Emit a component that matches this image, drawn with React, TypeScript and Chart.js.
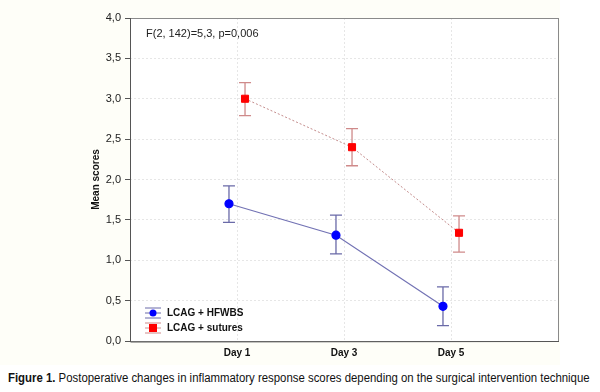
import React, { useEffect, useLayoutEffect, useRef } from "react";
import { Chart, registerables } from "chart.js";
Chart.register(...registerables);

const categories = ["Day 1", "Day 3", "Day 5"];
const hfwbsMean = [1.70, 1.31, 0.43];
const hfwbsLow = [1.47, 1.08, 0.19];
const hfwbsHigh = [1.92, 1.56, 0.67];
const suturesMean = [3.00, 2.40, 1.34];
const suturesLow = [2.79, 2.17, 1.10];
const suturesHigh = [3.20, 2.63, 1.55];
const yTicks = [0, 0.5, 1, 1.5, 2, 2.5, 3, 3.5, 4];
const annotation = "F(2, 142)=5,3, p=0,006";
const seriesNames = ["LCAG + HFWBS", "LCAG + sutures"];

const OFFSET = 0.075;

export default function App() {
  const ref = useRef<HTMLCanvasElement>(null);
  const capRef = useRef<HTMLDivElement>(null);
  useLayoutEffect(() => {
    const el = capRef.current;
    if (el) {
      const w = el.scrollWidth;
      const k = 582 / w;
      el.style.transform = `scaleX(${k})`;
    }
  }, []);
  useEffect(() => {
    const blue = hfwbsMean.map((v, i) => ({ x: i + 1 - OFFSET, y: v }));
    const red = suturesMean.map((v, i) => ({ x: i + 1 + OFFSET, y: v }));
    const errs = [
      { low: hfwbsLow, high: hfwbsHigh, off: -OFFSET, color: "#6a6aa8" },
      { low: suturesLow, high: suturesHigh, off: OFFSET, color: "#cf8a8a" },
    ];
    const plugin = {
      id: "extras",
      beforeDraw(chart: any) {
        const { ctx, chartArea: a } = chart;
        ctx.save();
        ctx.fillStyle = "#ffffff";
        ctx.fillRect(a.left, a.top, a.right - a.left, a.bottom - a.top);
        ctx.restore();
      },
      beforeDatasetsDraw(chart: any) {
        const { ctx, scales } = chart;
        const xs = scales.x, ys = scales.y;
        ctx.save();
        errs.forEach((e) => {
          ctx.strokeStyle = e.color;
          ctx.lineWidth = 1.3;
          e.low.forEach((lo: number, i: number) => {
            const px = xs.getPixelForValue(i + 1 + e.off);
            const y1 = ys.getPixelForValue(lo);
            const y2 = ys.getPixelForValue(e.high[i]);
            ctx.beginPath();
            ctx.moveTo(px, y1); ctx.lineTo(px, y2);
            ctx.moveTo(px - 6, y1); ctx.lineTo(px + 6, y1);
            ctx.moveTo(px - 6, y2); ctx.lineTo(px + 6, y2);
            ctx.stroke();
          });
        });
        ctx.restore();
      },
      afterDraw(chart: any) {
        const { ctx, chartArea: a } = chart;
        ctx.save();
        ctx.strokeStyle = "#8a8a8a";
        ctx.lineWidth = 1;
        ctx.strokeRect(a.left + 0.5, a.top + 0.5, a.right - a.left, a.bottom - a.top);
        ctx.strokeStyle = "#555";
        ctx.beginPath();
        ctx.moveTo(a.left + 0.5, a.top); ctx.lineTo(a.left + 0.5, a.bottom + 1);
        ctx.lineTo(a.right + 1, a.bottom + 0.5);
        ctx.stroke();
        ctx.fillStyle = "#222";
        ctx.font = "11px 'Liberation Sans', Arial, sans-serif";
        ctx.textBaseline = "middle";
        ctx.textAlign = "left";
        ctx.fillText(annotation, a.left + 16, a.top + 16);
        const items = [
          { name: seriesNames[0], color: "#0000ff", bar: "#6a6aa8", shape: "circle" },
          { name: seriesNames[1], color: "#ff0000", bar: "#cf8a8a", shape: "rect" },
        ];
        items.forEach((it, k) => {
          const cx = a.left + 23;
          const cy = a.bottom - 28 + k * 15;
          ctx.strokeStyle = it.bar;
          ctx.lineWidth = 1;
          ctx.beginPath();
          ctx.moveTo(cx - 8, cy - 5); ctx.lineTo(cx + 8, cy - 5);
          ctx.moveTo(cx - 8, cy + 5); ctx.lineTo(cx + 8, cy + 5);
          ctx.moveTo(cx - 8, cy); ctx.lineTo(cx + 8, cy);
          ctx.stroke();
          ctx.fillStyle = it.color;
          if (it.shape === "circle") {
            ctx.beginPath(); ctx.arc(cx, cy, 3.5, 0, Math.PI * 2); ctx.fill();
          } else {
            ctx.fillRect(cx - 4, cy - 4, 8, 8);
          }
          ctx.fillStyle = "#111";
          ctx.font = "bold 10px 'Liberation Sans', Arial, sans-serif";
          ctx.fillText(it.name, cx + 14, cy);
        });
        ctx.restore();
      },
    };
    const chart = new Chart(ref.current!, {
      type: "scatter",
      data: {
        datasets: [
          {
            label: seriesNames[0],
            data: blue,
            showLine: true,
            borderColor: "#7272b4",
            borderWidth: 1.2,
            backgroundColor: "#0000ff",
            pointBackgroundColor: "#0000ff",
            pointBorderColor: "#0000ff",
            pointRadius: 4,
            pointStyle: "circle",
          },
          {
            label: seriesNames[1],
            data: red,
            showLine: true,
            borderColor: "#c48c8c",
            borderWidth: 1,
            borderDash: [2, 2],
            backgroundColor: "#ff0000",
            pointBackgroundColor: "#ff0000",
            pointBorderColor: "#ff0000",
            pointRadius: 5,
            pointStyle: "rect",
          },
        ],
      },
      options: {
        animation: false,
        responsive: false,
        maintainAspectRatio: false,
        layout: { padding: { top: 18, right: 42, left: 90, bottom: 0 } },
        plugins: { legend: { display: false }, tooltip: { enabled: false } },
        scales: {
          x: {
            type: "linear",
            min: 0,
            max: 4,
            afterBuildTicks: (s: any) => {
              s.ticks = categories.map((_, i) => ({ value: i + 1 }));
            },
            afterFit: (s: any) => { s.height = 24; },
            ticks: {
              callback: (v: any) => categories[Number(v) - 1] ?? "",
              color: "#111",
              font: { family: "'Liberation Sans', Arial, sans-serif", size: 10, weight: "bold" },
              maxRotation: 0,
              padding: 6,
            },
            grid: { color: "#e6e6e6", drawTicks: false, lineWidth: 1 },
            border: { display: false, dash: [2, 2] },
          },
          y: {
            min: 0,
            max: 4,
            afterBuildTicks: (s: any) => {
              s.ticks = yTicks.map((v) => ({ value: v }));
            },
            afterFit: (s: any) => { s.width = 40; },
            ticks: {
              callback: (v: any) => Number(v).toFixed(1).replace(".", ","),
              color: "#222",
              font: { family: "'Liberation Sans', Arial, sans-serif", size: 11 },
              padding: 4,
            },
            grid: { color: "#e6e6e6", tickColor: "#555", tickLength: 5, tickBorderDash: [], lineWidth: 1 },
            border: { display: false, dash: [2, 2] },
            title: {
              display: true,
              text: "Mean scores",
              color: "#111",
              font: { family: "'Liberation Sans', Arial, sans-serif", size: 10, weight: "bold" },
              padding: { top: 0, bottom: 0 },
            },
          },
        },
      },
      plugins: [plugin],
    } as any);
    return () => chart.destroy();
  }, []);
  return (
    <div style={{ position: "absolute", left: 0, top: 0, width: 600, height: 392, background: "#fff" }}>
      <div style={{ position: "absolute", left: 0, top: 0, width: 560, height: 365, background: "#fefef8" }} />
      <canvas ref={ref} width={600} height={365} style={{ position: "absolute", left: 0, top: 0 }} />
      <div
        ref={capRef}
        style={{
          position: "absolute",
          left: 8,
          top: 370,
          display: "inline-block",
          whiteSpace: "nowrap",
          transformOrigin: "left center",
          fontFamily: "'Liberation Sans', Arial, sans-serif",
          fontSize: 12.5,
          color: "#111",
          lineHeight: "16px",
        }}
      >
        <b>Figure 1.</b> Postoperative changes in inflammatory response scores depending on the surgical intervention technique
      </div>
    </div>
  );
}
